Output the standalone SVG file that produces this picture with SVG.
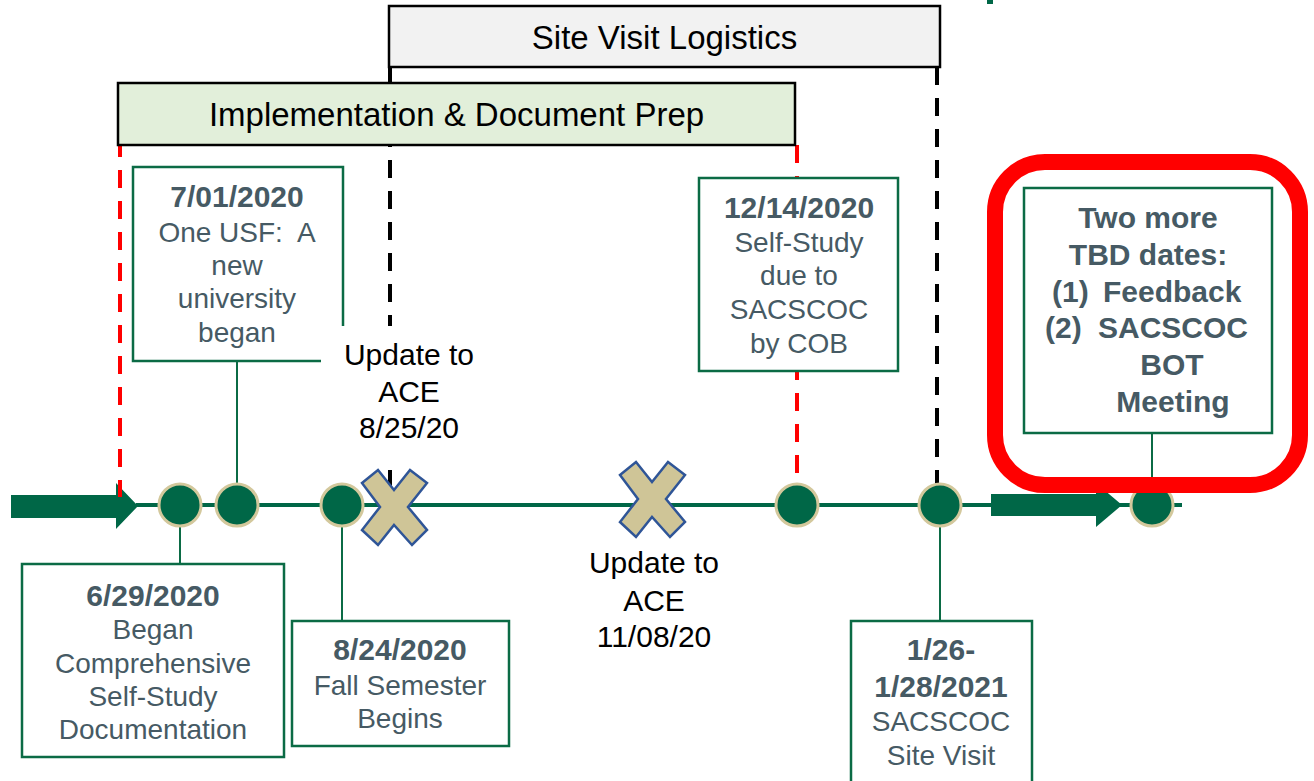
<svg xmlns="http://www.w3.org/2000/svg" width="1314" height="781" viewBox="0 0 1314 781">
<style>
.hdr{font-family:"Liberation Sans",Arial,sans-serif;font-size:33px;fill:#000;text-anchor:middle}
.box{fill:#fff;stroke:#0b6b45;stroke-width:2.5}
.dt{font-family:"Liberation Sans",Arial,sans-serif;font-size:30px;font-weight:bold;fill:#465a64;text-anchor:middle}
.bd{font-family:"Liberation Sans",Arial,sans-serif;font-size:28px;fill:#465a64;text-anchor:middle}
.bb{font-family:"Liberation Sans",Arial,sans-serif;font-size:30px;font-weight:bold;fill:#465a64}
.up{font-family:"Liberation Sans",Arial,sans-serif;font-size:30px;fill:#000;text-anchor:middle}
.conn{stroke:#0b6b45;stroke-width:2;fill:none}
.dot{fill:#006747;stroke:#d3c89c;stroke-width:3}
.xm{fill:#cfc597;stroke:#2f5597;stroke-width:2.5;stroke-linejoin:miter}
.rd{stroke:#ff0000;stroke-width:4;stroke-dasharray:18 13;fill:none}
.bk{stroke:#000;stroke-width:4;stroke-dasharray:18 13;fill:none}
</style>
<defs>
<polygon id="xshape" points="-32,-24 -16,-37 0,-17 16,-37 33,-24 14,0 33,23 18,38 0,18 -16,38 -32,23 -14,0"/>
</defs>
<rect x="987" y="0" width="6" height="4" fill="#006747"/>
<g id="connectors">
<line class="bk" x1="390" y1="67" x2="390" y2="505"/>
<line class="bk" x1="937" y1="67" x2="937" y2="505"/>
<line x1="136" y1="505" x2="1182" y2="505" stroke="#006747" stroke-width="4"/>
<polygon points="11,495 116,495 116,483 138,506 116,529 116,518 11,518" fill="#006747"/>
<polygon points="991,494 1096,494 1096,483 1122,505 1096,527 1096,516 991,516" fill="#006747"/>
<line class="rd" x1="120" y1="145" x2="120" y2="497" stroke-dashoffset="6"/>
<line class="rd" x1="797" y1="145" x2="797" y2="486"/>
<line class="conn" x1="180" y1="527" x2="180" y2="565"/>
<line class="conn" x1="237" y1="484" x2="237" y2="362"/>
<line class="conn" x1="342" y1="527" x2="342" y2="622"/>
<line class="conn" x1="940" y1="527" x2="940" y2="621"/>
<line class="conn" x1="1152" y1="483" x2="1152" y2="433"/>
</g>
<g id="site-visit-logistics">
<rect x="389" y="6" width="551" height="61" fill="#f2f2f2" stroke="#000" stroke-width="2.5"/>
<text class="hdr" x="664.5" y="49">Site Visit Logistics</text>
</g>
<g id="implementation">
<rect x="118" y="83" width="677" height="62" fill="#e2efda" stroke="#000" stroke-width="2.5"/>
<text class="hdr" x="456.5" y="126">Implementation &amp; Document Prep</text>
</g>
<g id="dots">
<circle class="dot" cx="180" cy="505" r="21"/>
<circle class="dot" cx="237" cy="505" r="21"/>
<circle class="dot" cx="342" cy="505" r="21"/>
<circle class="dot" cx="797" cy="505" r="21"/>
<circle class="dot" cx="940" cy="505" r="21"/>
<circle class="dot" cx="1152" cy="505" r="21"/>
</g>
<g id="x-marks">
<use href="#xshape" class="xm" x="394" y="507"/>
<use href="#xshape" class="xm" x="652" y="499"/>
</g>
<g id="n-0701">
<rect class="box" x="133" y="167" width="210" height="194"/>
<text class="dt" x="237" y="207">7/01/2020</text>
<text class="bd" x="237" y="242" xml:space="preserve">One USF:  A</text>
<text class="bd" x="237" y="275">new</text>
<text class="bd" x="237" y="308">university</text>
<text class="bd" x="237" y="342">began</text>
</g>
<g id="n-update-0825">
<rect x="321" y="326" width="176" height="142" fill="#fff"/>
<text class="up" x="409" y="365">Update to</text>
<text class="up" x="409" y="402">ACE</text>
<text class="up" x="409" y="438">8/25/20</text>
</g>
<g id="n-1214">
<rect class="box" x="699" y="178" width="199" height="193"/>
<text class="dt" x="799" y="218">12/14/2020</text>
<text class="bd" x="799" y="252">Self-Study</text>
<text class="bd" x="799" y="285">due to</text>
<text class="bd" x="799" y="319">SACSCOC</text>
<text class="bd" x="799" y="353">by COB</text>
</g>
<g id="n-tbd">
<rect class="box" x="1024" y="188" width="248" height="245"/>
<text class="bb" x="1148" y="228" text-anchor="middle">Two more</text>
<text class="bb" x="1148" y="265" text-anchor="middle">TBD dates:</text>
<text class="bb" x="1052" y="302">(1)</text>
<text class="bb" x="1103" y="302">Feedback</text>
<text class="bb" x="1045" y="338">(2)</text>
<text class="bb" x="1098" y="338">SACSCOC</text>
<text class="bb" x="1172" y="375" text-anchor="middle">BOT</text>
<text class="bb" x="1173" y="412" text-anchor="middle">Meeting</text>
</g>
<g id="highlight">
<rect x="995" y="162" width="305" height="323" rx="50" ry="50" fill="none" stroke="#ff0000" stroke-width="16"/>
</g>
<g id="n-0629">
<rect class="box" x="22" y="564" width="262" height="193"/>
<text class="dt" x="153" y="606">6/29/2020</text>
<text class="bd" x="153" y="639">Began</text>
<text class="bd" x="153" y="673">Comprehensive</text>
<text class="bd" x="153" y="706">Self-Study</text>
<text class="bd" x="153" y="739">Documentation</text>
</g>
<g id="n-0824">
<rect class="box" x="292" y="621" width="217" height="125"/>
<text class="dt" x="400" y="660">8/24/2020</text>
<text class="bd" x="400" y="695">Fall Semester</text>
<text class="bd" x="400" y="728">Begins</text>
</g>
<g id="n-update-1108">
<text class="up" x="654" y="573">Update to</text>
<text class="up" x="654" y="611">ACE</text>
<text class="up" x="654" y="647">11/08/20</text>
</g>
<g id="n-0126">
<rect class="box" x="851" y="621" width="181" height="200"/>
<text class="dt" x="941" y="660">1/26-</text>
<text class="dt" x="941" y="697">1/28/2021</text>
<text class="bd" x="941" y="731">SACSCOC</text>
<text class="bd" x="941" y="765">Site Visit</text>
</g>
</svg>
